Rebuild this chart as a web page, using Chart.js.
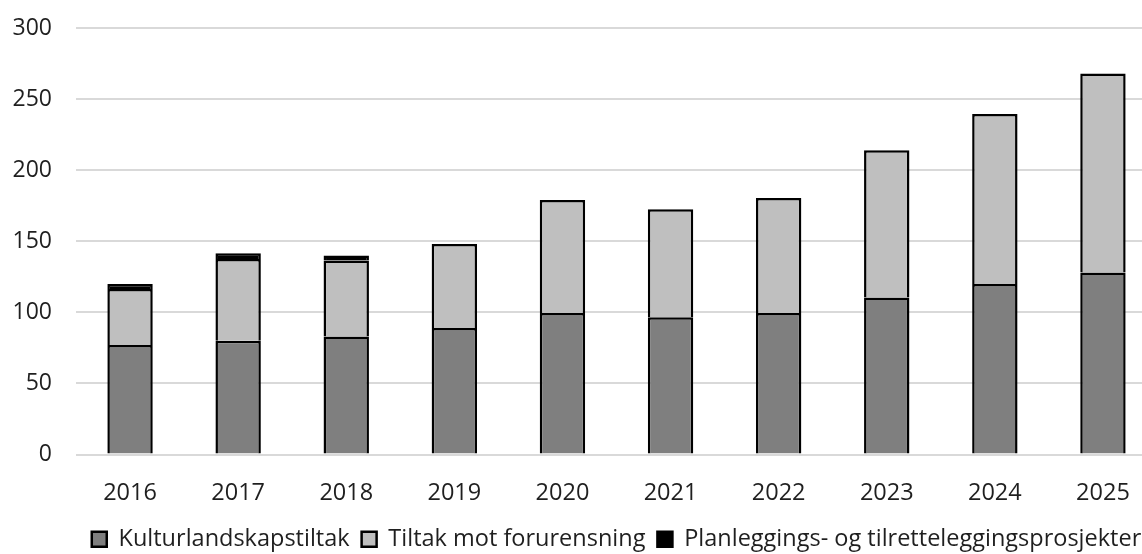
<!DOCTYPE html>
<html lang="no">
<head>
<meta charset="utf-8">
<script src="https://cdn.jsdelivr.net/npm/chart.js@4.4.1/dist/chart.umd.min.js"></script>
<style>
  html, body { margin: 0; padding: 0; background: #fff; overflow: hidden; }
  #wrap { width: 1160px; height: 561px; }
</style>
</head>
<body>
<div id="wrap"><canvas id="chart"></canvas></div>
<script>
// Data
const years = ['2016', '2017', '2018', '2019', '2020', '2021', '2022', '2023', '2024', '2025'];
const kulturlandskap = [77, 80, 83, 89, 99.5, 96.5, 99.5, 110.5, 120, 128];
const forurensning = [39.5, 57.5, 53.5, 59, 79.5, 76, 81, 103.5, 119.5, 140];
const planlegging = [3.5, 4, 3.5, 0, 0, 0, 0, 0, 0, 0];
const yTicks = [0, 50, 100, 150, 200, 250, 300];

const textColor = '#1f1f1f';
const gridColor = '#d9d9d9';
const fontFamily = '"Open Sans", sans-serif';

function serie(label, data, color) {
  return {
    label: label,
    data: data,
    backgroundColor: color,
    borderColor: '#000000',
    borderWidth: 2.5,
    borderSkipped: 'start',
    barPercentage: 0.42,
    categoryPercentage: 1
  };
}

const ctx = document.getElementById('chart').getContext('2d');
new Chart(ctx, {
  type: 'bar',
  data: {
    labels: years,
    datasets: [
      serie('Kulturlandskapstiltak', kulturlandskap, '#7f7f7f'),
      serie('Tiltak mot forurensning', forurensning, '#bfbfbf'),
      serie('Planleggings- og tilretteleggingsprosjekter', planlegging, '#000000')
    ]
  },
  options: {
    responsive: true,
    maintainAspectRatio: false,
    animation: false,
    layout: { padding: { top: 28, left: 0, right: 3, bottom: 0 } },
    plugins: {
      tooltip: { enabled: false },
      legend: {
        position: 'bottom',
        fullSize: false,
        labels: {
          boxWidth: 15,
          boxHeight: 15,
          padding: 12,
          color: textColor,
          font: { family: fontFamily, size: 23.5 }
        }
      }
    },
    scales: {
      x: {
        stacked: true,
        grid: { display: false, drawTicks: false },
        border: { display: false },
        ticks: { color: textColor, padding: 25, font: { family: fontFamily, size: 23.5 } },
        afterFit: scale => { scale.height = 61; }
      },
      y: {
        stacked: true,
        min: 0,
        max: 300,
        grid: { color: gridColor, lineWidth: 2, drawTicks: false },
        border: { display: false },
        afterBuildTicks: scale => { scale.ticks = yTicks.map(v => ({ value: v })); },
        ticks: { color: textColor, padding: 24, font: { family: fontFamily, size: 23 } },
        afterFit: scale => {
          scale.width = 76;
          scale.paddingTop = 0;
          scale.paddingBottom = 0;
        }
      }
    }
  }
});
</script>
</body>
</html>
